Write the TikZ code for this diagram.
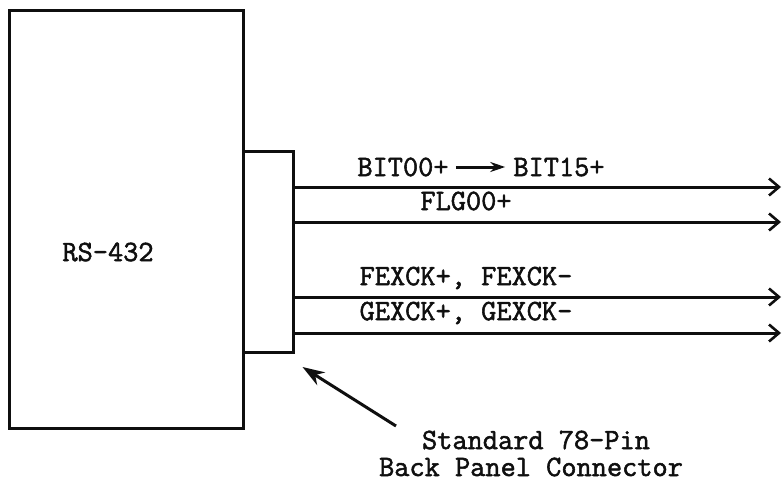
\documentclass[tikz,border=0pt]{standalone}
\usepackage{fontspec}
\setmonofont[FakeBold=1.8]{Latin Modern Mono}
\usepackage{tikz}
\usetikzlibrary{arrows.meta,positioning}
\definecolor{inkcol}{RGB}{15,15,15}
\tikzset{
  unitbox/.style={draw=inkcol,line width=3pt,inner sep=0pt},
  txt/.style={font=\ttfamily\fontsize{29.5}{29}\selectfont,text=inkcol,inner sep=0pt},
  sig/.style={-{Straight Barb[length=10pt,width=17pt,line width=2.6pt]},draw=inkcol,line width=3pt},
  thru/.style={-{Stealth[length=15pt,width=10pt]},draw=inkcol,line width=3pt},
  callout/.style={-{Stealth[length=22pt,width=15pt,inset=7pt]},draw=inkcol,line width=3pt},
}
\begin{document}
\begin{tikzpicture}[x=1pt,y=-1pt]
  \useasboundingbox (0,0) rectangle (783,482);
  \node[unitbox,minimum width=234pt,minimum height=418pt] (rs) at (126,219) {};
  \node[txt] (rslbl) at (108,252) {RS-432};
  \node[unitbox,minimum width=50pt,minimum height=201pt] (conn) at (268,252) {};
  \coordinate (o1) at (781,187);
  \coordinate (o2) at (781,222);
  \coordinate (o3) at (781,297);
  \coordinate (o4) at (781,333);
  \draw[sig] (conn.east |- o1) -- (o1);
  \draw[sig] (conn.east |- o2) -- (o2);
  \draw[sig] (conn.east |- o3) -- (o3);
  \draw[sig] (conn.east |- o4) -- (o4);
  \node[txt] (b0) at (403,167) {BIT00+};
  \node[txt] (b15) at (559,167) {BIT15+};
  \draw[thru,shorten <=7pt,shorten >=8pt] (b0.east) -- (b15.west);
  \node[txt] (flg) at (466,201) {FLG00+};
  \node[txt] (fex) at (466,278) {FEXCK+, FEXCK-};
  \node[txt] (gex) at (466,313) {GEXCK+, GEXCK-};
  \node[txt] (note1) at (536,440) {Standard 78-Pin};
  \node[txt] (note2) at (531,467) {Back Panel Connector};
  \coordinate (tail) at (396,426);
  \draw[callout] (tail) -- ([xshift=8pt,yshift=-13pt]conn.south east);
\end{tikzpicture}
\end{document}
